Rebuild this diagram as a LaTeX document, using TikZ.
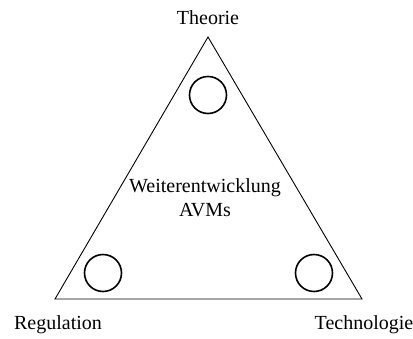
\documentclass[tikz,border=0pt]{standalone}
\usepackage{fontspec}
\setmainfont{Liberation Serif}
\usepackage{tikz}
\usetikzlibrary{positioning}

\begin{document}
\begin{tikzpicture}[
  x=1pt, y=-1pt,
  label/.style={font=\fontsize{20}{24}\selectfont, inner sep=0pt},
  dot/.style={draw, circle, line width=1.6pt, minimum size=37pt, inner sep=0pt},
  edge/.style={line width=0.9pt}
]
\useasboundingbox (0,0) rectangle (413,338);
\coordinate (top) at (208,37);
\coordinate (bl) at (55,299);
\coordinate (br) at (362,299);
\draw[edge] (top) -- (bl) -- (br) -- cycle;
\node[dot] (ctop) at (208,95) {};
\node[dot] (cleft) at (103,273) {};
\node[dot] (cright) at (314,273) {};
\node[label] (theorie) at (208,18) {Theorie};
\node[label] (regulation) at (58,325) {Regulation};
\node[label] (technologie) at (364,325) {Technologie};
\node[label, align=center] (avm) at (205,198) {Weiterentwicklung\\AVMs};
\end{tikzpicture}
\end{document}
